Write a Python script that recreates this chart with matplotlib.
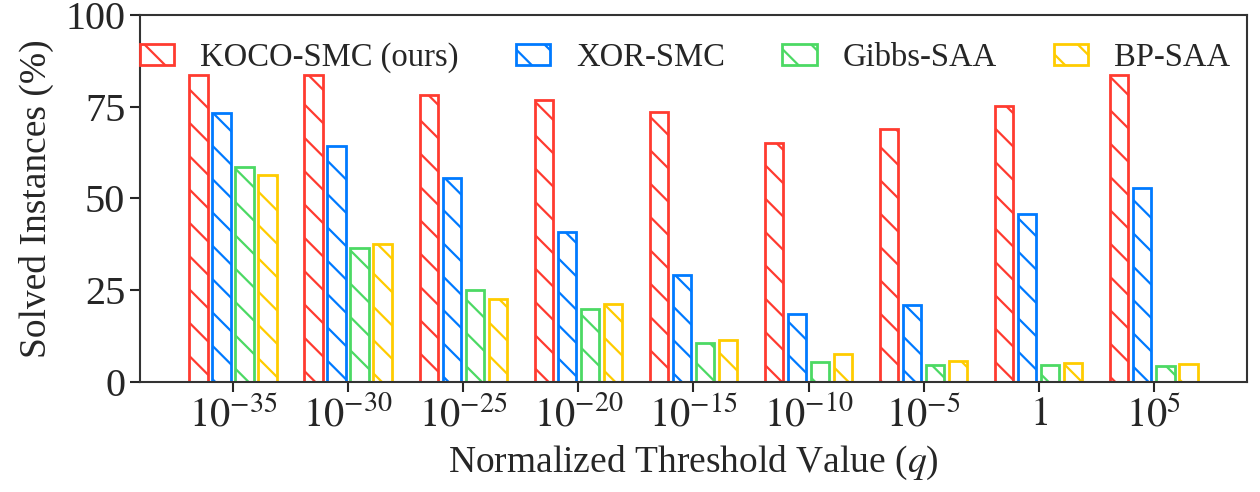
import numpy as np
import matplotlib
matplotlib.use("Agg")
import matplotlib.pyplot as plt

# Solved instances (%) per normalized threshold value q
thresholds = [r"$10^{-35}$", r"$10^{-30}$", r"$10^{-25}$", r"$10^{-20}$", r"$10^{-15}$",
              r"$10^{-10}$", r"$10^{-5}$", r"$1$", r"$10^{5}$"]
koco_smc = [83.6, 83.6, 78.2, 76.8, 73.5, 65.1, 68.9, 75.1, 83.6]
xor_smc = [73.3, 64.3, 55.6, 40.8, 29.2, 18.4, 21.0, 45.7, 52.9]
gibbs_saa = [58.6, 36.5, 25.1, 20.0, 10.6, 5.5, 4.5, 4.7, 4.4]
bp_saa = [56.4, 37.6, 22.6, 21.3, 11.4, 7.5, 5.8, 5.1, 4.9]

methods = ["KOCO-SMC (ours)", "XOR-SMC", "Gibbs-SAA", "BP-SAA"]
colors = ["#FF3B30", "#007AFF", "#4CD964", "#FFCC00"]

plt.rcParams["font.family"] = ["Liberation Serif", "DejaVu Serif"]
plt.rcParams["mathtext.fontset"] = "stix"
plt.rcParams["hatch.linewidth"] = 1.6
text_color = "#262626"

fig = plt.figure(figsize=(12.6, 4.92), dpi=100)
ax = fig.add_axes([0.111, 0.2236, 0.8787, 0.7459])

x = np.arange(len(thresholds))
width = 0.16
offsets = [-0.3, -0.1, 0.1, 0.3]
for vals, name, c, off in zip([koco_smc, xor_smc, gibbs_saa, bp_saa], methods, colors, offsets):
    ax.bar(x + off, vals, width, facecolor="none", edgecolor=c, hatch="\\",
           linewidth=2.0, label=name)

ax.set_xlim(-0.81, 8.81)
ax.set_ylim(0, 100)
ax.set_yticks([0, 25, 50, 75, 100])
ax.set_xticks(x)
ax.set_xticklabels(thresholds)
ax.tick_params(axis="both", labelsize=29, colors=text_color, length=7, width=1.5, direction="out")
for s in ax.spines.values():
    s.set_color("#333333")
    s.set_linewidth(1.5)

ax.set_ylabel("Solved Instances (%)", fontsize=27, color=text_color, labelpad=8)
ax.set_xlabel(r"Normalized Threshold Value ($q$)", fontsize=27, color=text_color, labelpad=6)

ax.legend(loc="upper left", bbox_to_anchor=(0.0, 0.925), ncol=4, frameon=False,
          fontsize=23.5, handlelength=1.05, handleheight=0.62, handletextpad=0.8,
          columnspacing=1.75, borderaxespad=0, borderpad=0, labelcolor=text_color)

fig.savefig("out.png", dpi=100)
